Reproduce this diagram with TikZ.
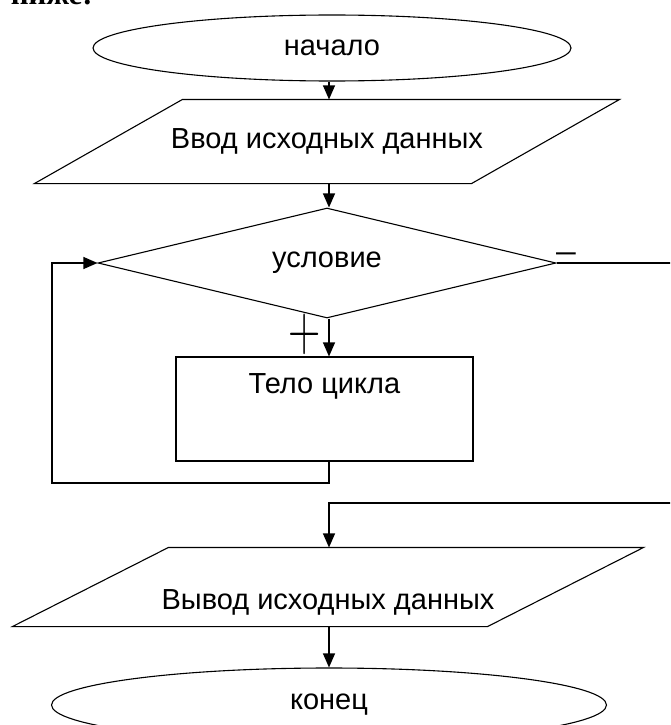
\documentclass[tikz,border=0pt]{standalone}
\usepackage{fontspec}
\setmainfont{Liberation Sans}
\newfontfamily\headfont{Liberation Serif}
\usetikzlibrary{shapes.geometric,arrows.meta,positioning,calc}
% slanted input/output box round a node
\newcommand{\ioshape}[2]{\draw ($(#1.north west)+(#2,0)$) -- ($(#1.north east)+(#2,0)$) -- ($(#1.south east)-(#2,0)$) -- ($(#1.south west)-(#2,0)$) -- cycle;}

\begin{document}
\begin{tikzpicture}[x=1pt,y=-1pt,line width=1.1pt,
		every node/.style={font=\fontsize{29}{34}\selectfont},
		term/.style={draw,ellipse,inner sep=0pt},
		io/.style={rectangle,inner sep=0pt},
		cond/.style={draw,diamond,aspect=4,inner sep=0pt},
		block/.style={draw,rectangle,inner sep=0pt},
		arr/.style={-{Triangle[width=12pt,length=14pt]}}]
		\useasboundingbox (0,0) rectangle (670,725);
		\clip (0,0) rectangle (670,725);
		\node[anchor=base west,font=\headfont\bfseries\fontsize{31}{36}\selectfont] (head) at (7,5) {ниже:};
		\coordinate (col) at (329,0);
		% blocks
		\node[term,minimum width=478pt,minimum height=66pt] (start) at (332,48) {начало};
		\node[io,minimum width=436pt,minimum height=83pt] (vvod) at (327,141.5) {Ввод исходных данных};
		\ioshape{vvod}{74}
		\node[cond,minimum width=458pt,minimum height=110pt] (usl) at (327,263) {условие};
		\node[block,minimum width=297pt,minimum height=104pt] (telo) at (324.5,409) {\raisebox{16pt}[0pt][0pt]{Тело цикла}};
		\node[io,minimum width=474pt,minimum height=78pt] (vyvod) at (328,587) {\raisebox{-22pt}[0pt][0pt]{Вывод исходных данных}};
		\ioshape{vyvod}{78}
		\node[term,minimum width=555pt,minimum height=74pt] (konec) at (329,705) {конец};
		\node (plus) at (305,334) {\scalebox{1.8}[2.6]{$+$}};
		\node (minus) at (566,258) {\scalebox{1.4}[1]{−}};
		% connectors
		\coordinate (loop) at (52,483);
		\coordinate (out) at (690,503);
		\draw[arr] (start.south -| col) -- (vvod.north -| col);
		\draw[arr] (vvod.south -| col) -- (usl.north -| col);
		\draw[arr] (usl.south -| col) -- (telo.north -| col);
		\draw[arr] (telo.south -| col) |- (loop) |- (usl.west);
		\draw[arr] (usl.east) -| (out) -| (vyvod.north -| col);
		\draw[arr] (vyvod.south -| col) -- (konec.north -| col);
\end{tikzpicture}
\end{document}
